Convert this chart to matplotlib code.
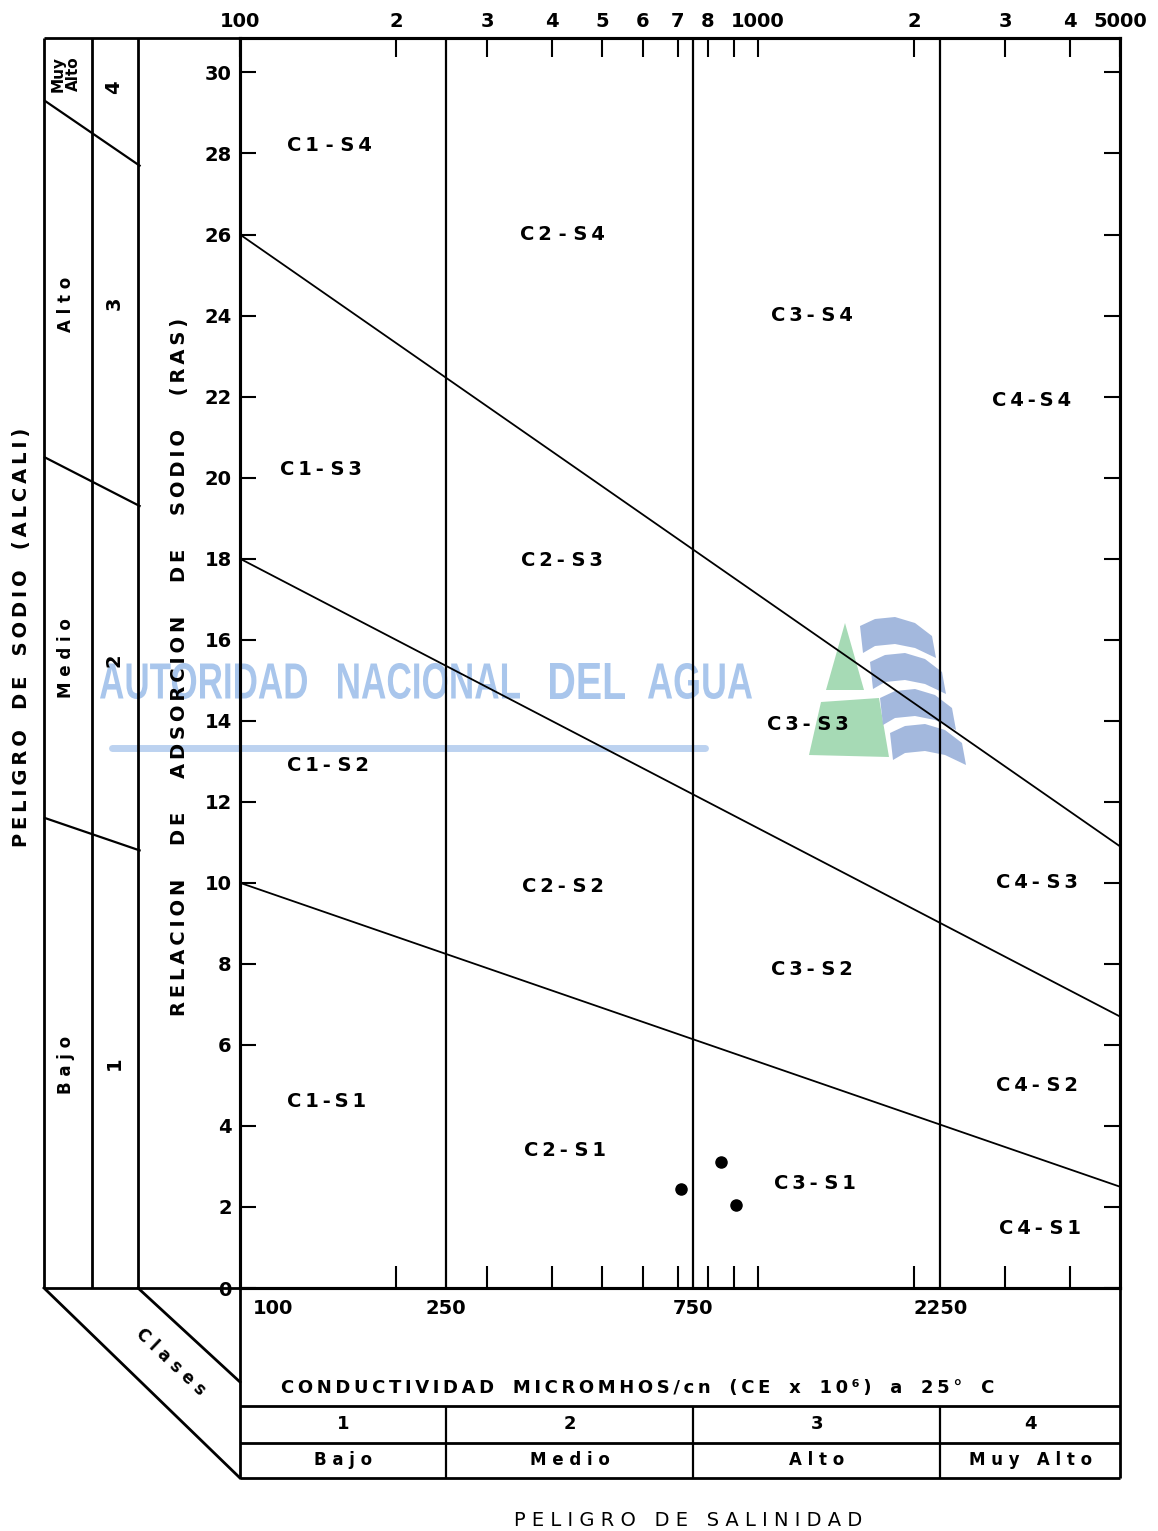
import numpy as np
import matplotlib
matplotlib.use('Agg')
from matplotlib import pyplot as plt
from matplotlib.ticker import FixedLocator, FixedFormatter, NullLocator, NullFormatter
from matplotlib.transforms import blended_transform_factory, Affine2D
from matplotlib.textpath import TextPath
from matplotlib.patches import PathPatch, Polygon
from matplotlib.font_manager import FontProperties

# --- data ---
ras_ticks = list(range(0, 31, 2))
top_ticks = [100, 200, 300, 400, 500, 600, 700, 800, 900, 1000, 2000, 3000, 4000, 5000]
top_labels = ['100', '2', '3', '4', '5', '6', '7', '8', '', '1000', '2', '3', '4', '5000']
bottom_ticks = [200, 300, 400, 500, 600, 700, 800, 900, 1000, 2000, 3000, 4000]
bottom_label_ec = [100, 250, 750, 2250]
bottom_labels = ['100', '250', '750', '2250']

class_limits = [250, 750, 2250]          # salinity class limits (CE)
line_ec = [100, 5000]
s4_limit = [26.0, 10.9]                  # S3/S4 boundary
s3_limit = [18.0, 6.7]                   # S2/S3 boundary
s2_limit = [10.0, 2.5]                   # S1/S2 boundary

# same boundaries continued through the sodium-hazard column
panel_ec = [42, 64]
panel_s4 = [29.3, 27.7]
panel_s3 = [20.5, 19.3]
panel_s2 = [11.6, 10.8]

sample_ec = [710, 850, 905]
sample_ras = [2.45, 3.1, 2.05]

salinity_classes = ['1', '2', '3', '4']
salinity_names = ['Bajo', 'Medio', 'Alto', 'Muy Alto']

zone_labels = [
    ('C1 - S4', 149, 28.2), ('C2 - S4', 420, 26.0), ('C3- S4', 1271, 24.0), ('C4-S4', 3380, 21.9),
    ('C1- S3', 143, 20.2), ('C2- S3', 418, 17.95), ('C3- S3', 1249, 13.9), ('C4- S3', 3456, 10.0),
    ('C1- S2', 148, 12.9), ('C2- S2', 420, 9.9), ('C3- S2', 1271, 7.85), ('C4- S2', 3456, 5.0),
    ('C1-S1', 147, 4.6), ('C2- S1', 424, 3.4), ('C3- S1', 1288, 2.57), ('C4- S1', 3500, 1.46),
]


def spaced(s, gap='\u2009', word_gap='   '):
    return word_gap.join(gap.join(w) for w in s.split(' '))


W, H = 1158, 1531
fig = plt.figure(figsize=(W / 100, H / 100), dpi=100)

# background layer in pixel units for the frame, watermark and labels
deco = fig.add_axes([0, 0, 1, 1])
deco.axis('off')

ax = fig.add_axes([240 / W, (H - 1288) / H, 880 / W, 1250 / H])
ax.set_facecolor('none')
ax.set_xscale('log')
ax.set_xlim(100, 5000)
ax.set_ylim(0, 30.85)

# watermark
wm_color = '#a9c6ec'
fp = FontProperties(family='Liberation Sans', weight='bold')
for word, x0, x1 in [('AUTORIDAD', 100, 307), ('NACIONAL', 338, 520), ('DEL', 550, 625), ('AGUA', 648, 752)]:
    tp = TextPath((0, 0), word, size=100, prop=fp)
    ext = tp.get_extents()
    sx = (x1 - x0) / ext.width
    sy = 36 / ext.height
    tr = Affine2D().translate(-ext.x0, -ext.y0).scale(sx, -sy).translate(x0, 699)
    deco.add_patch(PathPatch(tr.transform_path(tp), facecolor=wm_color, edgecolor='none', zorder=0))
deco.plot([112, 705], [748, 748], color='#bcd2f0', lw=5, solid_capstyle='round', zorder=0)

# logo
green = '#a6dab5'
blue = '#a3b8dd'
deco.add_patch(Polygon([(845, 623), (864, 690), (826, 690)], closed=True, fc=green, ec='none', zorder=0))
deco.add_patch(Polygon([(821, 702), (879, 698), (889, 757), (809, 755)], closed=True, fc=green, ec='none', zorder=0))
band = np.array([(0, 0), (15, -7), (35, -9), (55, -3), (72, 10), (76, 32), (55, 22), (35, 18), (15, 20), (3, 27)])
for bx, by in [(860, 626), (870, 662), (880, 698), (890, 733)]:
    deco.add_patch(Polygon(band + [bx, by], closed=True, fc=blue, ec='none', zorder=0))

# frame: sodium hazard column on the left
lw_frame = 2.0
deco.vlines([44, 92, 138], 38, 1288, color='black', lw=lw_frame)
deco.hlines([38, 1288], 44, 240, color='black', lw=lw_frame)
deco.plot([44, 240], [1288, 1478], color='black', lw=lw_frame)
deco.plot([138, 240], [1288, 1382], color='black', lw=lw_frame)

# frame: salinity table at the bottom
deco.vlines([240, 1120], 1288, 1478, color='black', lw=lw_frame)
deco.hlines([1406, 1443, 1478], 240, 1120, color='black', lw=lw_frame)
xmix = blended_transform_factory(ax.transData, deco.transData)
deco.vlines(class_limits, 1406, 1478, color='black', lw=1.6, transform=xmix)

deco.set_xlim(0, W)
deco.set_ylim(H, 0)

# main diagram
ax.vlines(class_limits, 0, 30.85, color='black', lw=1.6)
for vals in (s4_limit, s3_limit, s2_limit):
    ax.plot(line_ec, vals, color='black', lw=1.3)
for vals in (panel_s4, panel_s3, panel_s2):
    ax.plot(panel_ec, vals, color='black', lw=1.6, clip_on=False)
ax.plot(sample_ec, sample_ras, 'o', color='black', ms=8, ls='none')

for lab, ec, ras in zone_labels:
    ax.text(ec, ras, spaced(lab, word_gap=' '), ha='center', va='center', fontsize=14, fontweight='bold')

# axes styling
for sp in ax.spines.values():
    sp.set_linewidth(2.2)
ax.xaxis.set_major_locator(FixedLocator(bottom_ticks))
ax.xaxis.set_major_formatter(NullFormatter())
ax.xaxis.set_minor_locator(NullLocator())
ax.tick_params(axis='x', direction='in', length=16, width=1.5)
ax.set_yticks(ras_ticks)
ax.set_yticklabels([str(v) for v in ras_ticks])
ax.tick_params(axis='y', direction='in', length=11.5, width=1.5, right=True, labelsize=14, pad=6)
for t in ax.get_yticklabels():
    t.set_fontweight('bold')

top = ax.twiny()
top.set_xscale('log')
top.set_xlim(100, 5000)
top.xaxis.set_major_locator(FixedLocator(top_ticks))
top.xaxis.set_major_formatter(FixedFormatter(top_labels))
top.xaxis.set_minor_locator(NullLocator())
top.tick_params(axis='x', direction='in', length=14, width=1.5, labelsize=14, pad=5)
for t in top.get_xticklabels():
    t.set_fontweight('bold')
for sp in top.spines.values():
    sp.set_linewidth(2.2)

# bottom scale labels
for ec, lab in zip(bottom_label_ec, bottom_labels):
    if ec == 100:
        ax.annotate(lab, xy=(ec, 1309), xycoords=xmix, xytext=(9, 0), textcoords='offset points',
                    ha='left', va='center', fontsize=14, fontweight='bold')
    else:
        ax.text(ec, 1309, lab, transform=xmix, ha='center', va='center', fontsize=14, fontweight='bold')

# salinity table text
bounds = [100] + class_limits + [5000]
centers = [np.sqrt(a * b) for a, b in zip(bounds[:-1], bounds[1:])]
for c, num, name in zip(centers, salinity_classes, salinity_names):
    ax.text(c, 1424, num, transform=xmix, ha='center', va='center', fontsize=13, fontweight='bold')
    ax.text(c, 1460, spaced(name, ' '), transform=xmix, ha='center', va='center', fontsize=12, fontweight='bold')

deco.text(638, 1388, spaced('CONDUCTIVIDAD MICROMHOS/cn (CE x 10\u2076) a 25\u00b0 C'),
          ha='center', va='center', fontsize=13, fontweight='bold')
deco.text(688, 1520, spaced('PELIGRO DE SALINIDAD', ' '), ha='center', va='center', fontsize=14)

# sodium hazard column text
deco.text(22, 637, spaced('PELIGRO DE SODIO (ALCALI)'), rotation=90, ha='center', va='center',
          fontsize=14, fontweight='bold')
deco.text(180, 667, spaced('RELACION DE ADSORCION DE SODIO (RAS)', word_gap='     '), rotation=90,
          ha='center', va='center', fontsize=14, fontweight='bold')
deco.text(66, 74, 'Muy\nAlto', rotation=90, ha='center', va='center', fontsize=11, fontweight='bold',
          linespacing=1.0)
for y, name in [(304, 'Alto'), (658, 'Medio'), (1065, 'Bajo')]:
    deco.text(66, y, spaced(name, ' '), rotation=90, ha='center', va='center', fontsize=12, fontweight='bold')
for y, num in [(87, '4'), (303, '3'), (660, '2'), (1063, '1')]:
    deco.text(114, y, num, rotation=90, ha='center', va='center', fontsize=14, fontweight='bold')
deco.text(171, 1362, spaced('Clases', ' '), rotation=-43.5, rotation_mode='anchor', ha='center',
          va='center', fontsize=12, fontweight='bold')

plt.savefig('out.png', dpi=100)
